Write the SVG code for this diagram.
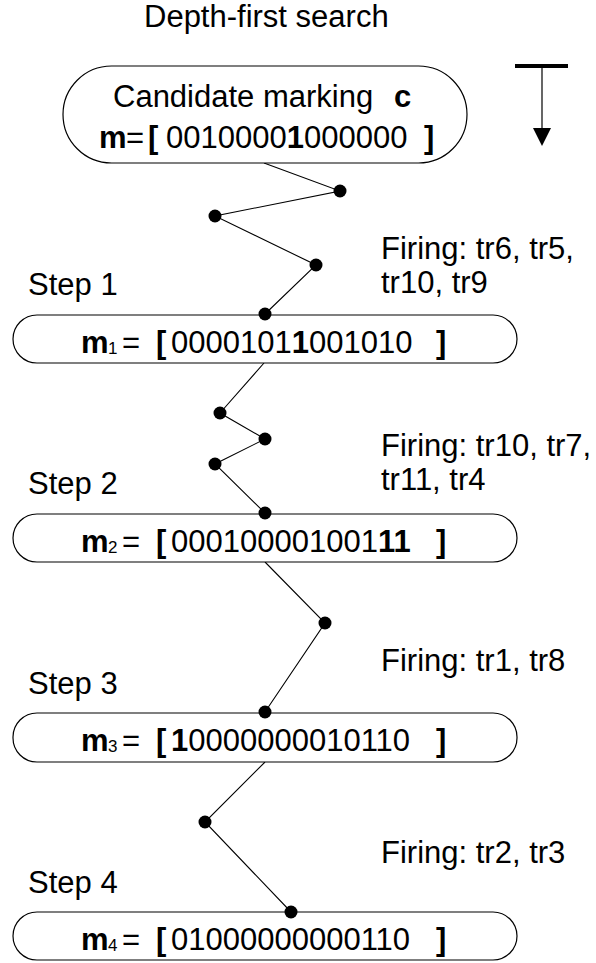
<svg xmlns="http://www.w3.org/2000/svg" width="596" height="963" viewBox="0 0 596 963">
<style>
text{font-family:"Liberation Sans",Arial,sans-serif;font-size:31px;fill:#000}
.b{font-weight:bold}
.sub{font-size:17px}
.node{fill:#fff;stroke:#000;stroke-width:1.2}
.edge{fill:none;stroke:#000;stroke-width:1.1}
.dot{fill:#000}
</style>
<rect width="596" height="963" fill="#fff"/>
<text id="title" x="144" y="27">Depth-first search</text>
<g id="direction-arrow">
<line x1="515" y1="66" x2="568" y2="66" stroke="#000" stroke-width="4"/>
<line x1="542" y1="66" x2="542" y2="130" stroke="#000" stroke-width="1.2"/>
<polygon points="533,128 551,128 542,146" fill="#000"/>
</g>
<g id="connectors">
<polyline class="edge" points="264,163 340,191 215,216 316,265 265,314"/>
<polyline class="edge" points="264,363 220,413 265,439 215,464 265,513"/>
<polyline class="edge" points="265,562 325,623 265,712"/>
<polyline class="edge" points="265,762 205,822 291,912"/>
</g>
<g id="node-c">
<rect class="node" x="63" y="66" width="404" height="97" rx="48.5"/>
<text x="113" y="107">Candidate marking</text>
<text class="b" x="394" y="107">c</text>
<text class="b" x="99" y="148">m</text>
<text x="126" y="148">=</text>
<text class="b" x="148" y="148">[</text>
<text x="166" y="148">0010000<tspan class="b">1</tspan>000000</text>
<text class="b" x="424" y="148">]</text>
</g>
<g id="node-m1">
<rect class="node" x="13" y="315" width="504" height="48" rx="24"/>
<text class="b" x="81" y="353">m</text>
<text class="sub" x="108" y="354">1</text>
<text x="122" y="353">=</text>
<text class="b" x="156" y="353">[</text>
<text x="171" y="353">0000101<tspan class="b">1</tspan>001010</text>
<text class="b" x="436" y="353">]</text>
</g>
<g id="node-m2">
<rect class="node" x="13" y="514" width="504" height="48" rx="24"/>
<text class="b" x="81" y="552">m</text>
<text class="sub" x="108" y="553">2</text>
<text x="122" y="552">=</text>
<text class="b" x="156" y="552">[</text>
<text x="171" y="552">000100001001<tspan class="b">11</tspan></text>
<text class="b" x="436" y="552">]</text>
</g>
<g id="node-m3">
<rect class="node" x="13" y="713" width="504" height="49" rx="24"/>
<text class="b" x="81" y="751">m</text>
<text class="sub" x="108" y="752">3</text>
<text x="122" y="751">=</text>
<text class="b" x="156" y="751">[</text>
<text x="171" y="751"><tspan class="b">1</tspan>0000000010110</text>
<text class="b" x="436" y="751">]</text>
</g>
<g id="node-m4">
<rect class="node" x="13" y="912" width="504" height="48" rx="24"/>
<text class="b" x="81" y="950">m</text>
<text class="sub" x="108" y="951">4</text>
<text x="122" y="950">=</text>
<text class="b" x="156" y="950">[</text>
<text x="171" y="950">01000000000110</text>
<text class="b" x="436" y="950">]</text>
</g>
<g id="dots">
<circle class="dot" cx="340" cy="191" r="6.5"/>
<circle class="dot" cx="215" cy="216" r="6.5"/>
<circle class="dot" cx="316" cy="265" r="6.5"/>
<circle class="dot" cx="265" cy="314" r="6.5"/>
<circle class="dot" cx="220" cy="413" r="6.5"/>
<circle class="dot" cx="265" cy="439" r="6.5"/>
<circle class="dot" cx="215" cy="464" r="6.5"/>
<circle class="dot" cx="265" cy="513" r="6.5"/>
<circle class="dot" cx="325" cy="623" r="6.5"/>
<circle class="dot" cx="265" cy="712" r="6.5"/>
<circle class="dot" cx="205" cy="822" r="6.5"/>
<circle class="dot" cx="291" cy="912" r="6.5"/>
</g>
<g id="labels">
<text x="28" y="295">Step 1</text>
<text x="381" y="259">Firing: tr6, tr5,</text>
<text x="381" y="293">tr10, tr9</text>
<text x="28" y="494">Step 2</text>
<text x="381" y="456">Firing: tr10, tr7,</text>
<text x="381" y="490">tr11, tr4</text>
<text x="28" y="694">Step 3</text>
<text x="381" y="671">Firing: tr1, tr8</text>
<text x="28" y="893">Step 4</text>
<text x="381" y="863">Firing: tr2, tr3</text>
</g>
</svg>
